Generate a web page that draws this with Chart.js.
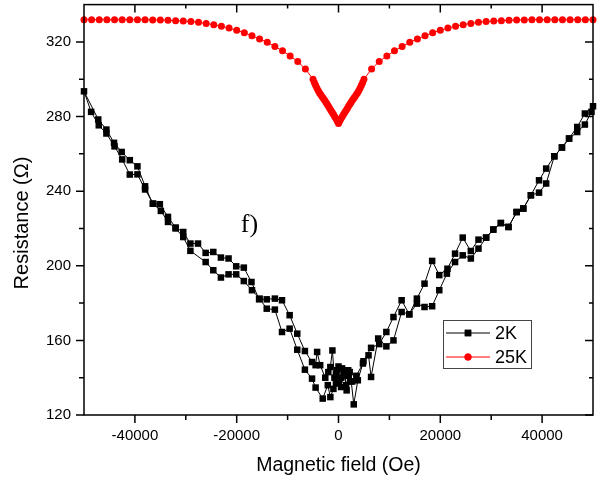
<!DOCTYPE html>
<html>
<head>
<meta charset="utf-8">
<script src="https://cdn.jsdelivr.net/npm/chart.js"></script>
<style>
  body { margin: 0; background: #fff; }
  canvas { display: block; }
</style>
</head>
<body>
<canvas id="chart" width="603" height="485"></canvas>
<script>
// axis ticks
const xTicks = [-40000, -20000, 0, 20000, 40000];
const xMinor = [-30000, -10000, 10000, 30000];
const yTicks = [120, 160, 200, 240, 280, 320];
const yMinor = [140, 180, 220, 260, 300];

// 2K, first sweep (+H -> -H)
const field2kDown = [50000, 48400, 46900, 45300, 43900, 42400, 40800, 39400, 37800, 36300,
  35000, 33400, 31900, 30400, 29000, 27500, 26000, 24400, 22900, 21400,
  19800, 18400, 16900, 15400, 13900, 12400, 10800, 9400, 8000, 6400,
  4900, 3800, 3000, 2500, 2000, 1500, 1000, 500, 0, -500,
  -1000, -1600, -2100, -3100, -4500, -5200, -6600, -8100, -9600, -11100,
  -12500, -14100, -15500, -17000, -18600, -20100, -21600, -23100, -24600, -26100,
  -29100, -30500, -32000, -33500, -34900, -36400, -38000, -39500, -41000, -42500,
  -44000, -45600, -47100, -48600, -50000];
const res2kDown = [285.5, 281.6, 274.4, 268.2, 263.4, 258.7, 252.1, 245.8, 237.8, 230.7,
  228.8, 220.8, 222.9, 219.4, 215.1, 214, 207.9, 215.1, 206.5, 198.4,
  195, 202.6, 190.4, 182.4, 174, 181.5, 172.5, 164.5, 158, 156,
  148.8, 138.6, 125.7, 138, 141, 136, 144, 140, 137, 142,
  134, 129.6, 136, 128.8, 134.7, 139.5, 144.3, 155, 166.3, 164.5,
  176.5, 177, 182.4, 186.9, 191.8, 195.4, 195.4, 193.7, 197.6, 202,
  208, 215.4, 220, 223.5, 229.4, 233.3, 240.9, 249, 248.9, 257,
  264, 270.9, 275.3, 282.5, 293.5];

// 2K, return sweep (-H -> +H)
const field2kUp = [-47200, -45600, -44100, -42600, -41000, -39500, -38000, -36500, -35100, -33500,
  -32000, -30500, -29100, -27600, -26100, -24600, -23100, -21600, -20100, -18600,
  -17100, -15600, -14100, -12500, -11100, -9600, -8100, -6600, -5200, -4500,
  -4200, -3600, -2600, -2000, -1600, -1200, -800, -500, -300, 0,
  200, 500, 700, 1000, 1200, 1600, 1900, 2200, 2700, 3500,
  4800, 5900, 6400, 7800, 9400, 10800, 12400, 13900, 15400, 16900,
  18400, 19800, 21300, 22900, 24400, 26000, 27500, 29000, 30400, 31900,
  33400, 35000, 36300, 37800, 39400, 40800, 42400, 43900, 45300, 46900,
  48400, 49700];
const res2kUp = [278.4, 273, 265.9, 261, 256.6, 253.3, 242.6, 233.3, 233, 226.2,
  220.5, 218.1, 211.9, 211.9, 206.9, 207.4, 204.4, 203.9, 199.7, 199,
  191.3, 182, 182, 182.4, 181.5, 173.5, 163.6, 154.3, 148.4, 146.7,
  153.8, 146.7, 140, 143, 145.7, 154.6, 140, 137, 144, 146,
  139, 135, 145, 141, 142, 133.2, 144, 143, 138, 141,
  147.6, 152, 140.4, 161, 156.8, 160, 175.2, 174, 179.7, 177.9,
  178.3, 186.9, 195.8, 202, 205.6, 203.9, 209.2, 215.1, 219.4, 222.9,
  220.8, 228.8, 230.7, 237.8, 239.2, 244.1, 258.7, 263.4, 268.2, 271.7,
  275.7, 282.5];

// 25K
const field25k = [-50000, -48500, -47000, -45500, -44000, -42500, -41000, -39500, -38000, -36500,
  -35000, -33500, -32000, -30500, -29000, -27500, -26000, -24500, -23000, -21500,
  -20000, -18500, -17000, -15500, -14000, -12500, -11000, -9500, -8000, -6500,
  -5000, -4750, -4500, -4250, -4000, -3750, -3500, -3250, -3000, -2750,
  -2500, -2250, -2000, -1750, -1500, -1250, -1000, -750, -500, -250,
  0, 250, 500, 750, 1000, 1250, 1500, 1750, 2000, 2250,
  2500, 2750, 3000, 3250, 3500, 3750, 4000, 4250, 4500, 4750,
  5000, 6500, 8000, 9500, 11000, 12500, 14000, 15500, 17000, 18500,
  20000, 21500, 23000, 24500, 26000, 27500, 29000, 30500, 32000, 33500,
  35000, 36500, 38000, 39500, 41000, 42500, 44000, 45500, 47000, 48500,
  50000];
const res25k = [331.9, 331.9, 331.9, 331.9, 331.9, 331.9, 331.9, 331.9, 331.9, 331.8,
  331.7, 331.6, 331.4, 331.2, 330.9, 330.5, 329.9, 329.2, 328.4, 327.4,
  326.2, 324.9, 323.3, 321.6, 319.8, 317.6, 315.2, 312.5, 309.5, 305.5,
  300, 298.2, 296.7, 295.3, 294, 292.8, 291.8, 290.8, 289.8, 288.8,
  287.8, 286.7, 285.6, 284.5, 283.4, 282.3, 281.2, 280, 278.9, 277.6,
  276.3, 277.6, 278.9, 280, 281.2, 282.3, 283.4, 284.5, 285.6, 286.7,
  287.8, 288.8, 289.8, 290.8, 291.8, 292.8, 294, 295.3, 296.7, 298.2,
  300, 305.5, 309.5, 312.5, 315.2, 317.6, 319.8, 321.6, 323.3, 324.9,
  326.2, 327.4, 328.4, 329.2, 329.9, 330.5, 330.9, 331.2, 331.4, 331.6,
  331.7, 331.8, 331.9, 331.9, 331.9, 331.9, 331.9, 331.9, 331.9, 331.9,
  331.9];

const toPoints = (xs, ys) => xs.map((v, i) => ({ x: v, y: ys[i] }));
const pts2k = toPoints(field2kDown, res2kDown).concat(toPoints(field2kUp, res2kUp));
const pts25k = toPoints(field25k, res25k);

Chart.defaults.color = '#000';
Chart.defaults.font.family = '"Liberation Sans", Arial, sans-serif';

// box, inward/outward ticks, y title, "f)" label and the legend box
const decorations = {
  id: 'decorations',
  afterDatasetsDraw(chart) {
    const { ctx, chartArea: a, scales: { x, y } } = chart;
    ctx.save();
    ctx.strokeStyle = '#000';
    ctx.lineWidth = 1.5;
    ctx.strokeRect(a.left, a.top, a.right - a.left, a.bottom - a.top);

    ctx.beginPath();
    const xt = (v, major) => {
      const p = x.getPixelForValue(v);
      ctx.moveTo(p, a.bottom); ctx.lineTo(p, a.bottom + (major ? 8 : 5));
      ctx.moveTo(p, a.top); ctx.lineTo(p, a.top + (major ? 8 : 4));
    };
    const yt = (v, major) => {
      const p = y.getPixelForValue(v);
      ctx.moveTo(a.left, p); ctx.lineTo(a.left - (major ? 8 : 5), p);
      ctx.moveTo(a.right, p); ctx.lineTo(a.right - (major ? 8 : 4), p);
    };
    xTicks.forEach(v => xt(v, true));
    xMinor.forEach(v => xt(v, false));
    yTicks.forEach(v => yt(v, true));
    yMinor.forEach(v => yt(v, false));
    ctx.stroke();

    ctx.fillStyle = '#000';
    ctx.textAlign = 'center';
    ctx.textBaseline = 'middle';

    // y axis title (sits a little below the plot centre in the original)
    ctx.save();
    ctx.translate(22.5, 223);
    ctx.rotate(-Math.PI / 2);
    ctx.font = '20px "Liberation Sans", Arial, sans-serif';
    ctx.fillText('Resistance (Ω)', 0, 0);
    ctx.restore();

    // panel label
    ctx.font = '26px "Liberation Serif", "Times New Roman", serif';
    ctx.fillText('f)', x.getPixelForValue(-17500), y.getPixelForValue(222));

    // legend
    ctx.lineWidth = 1;
    ctx.strokeStyle = '#444';
    ctx.strokeRect(443.5, 320.5, 88, 48);
    ctx.font = '18px "Liberation Sans", Arial, sans-serif';
    ctx.textAlign = 'left';
    chart.data.datasets.forEach((ds, i) => {
      const ly = 333 + i * 24;
      ctx.strokeStyle = ds.borderColor;
      ctx.beginPath();
      ctx.moveTo(446, ly); ctx.lineTo(490, ly);
      ctx.stroke();
      ctx.fillStyle = ds.pointBackgroundColor;
      Chart.helpers.drawPoint(ctx, { pointStyle: ds.pointStyle, radius: ds.pointRadius, rotation: 0, borderWidth: 0 }, 468, ly);
      ctx.fill();
      ctx.fillStyle = '#000';
      ctx.fillText(ds.label, 495, ly + 1);
    });
    ctx.restore();
  }
};

new Chart(document.getElementById('chart'), {
  type: 'line',
  data: {
    datasets: [
      {
        label: '2K',
        data: pts2k,
        borderColor: '#000',
        borderWidth: 1,
        pointStyle: 'rect',
        pointRadius: 4.6,
        pointBackgroundColor: '#000',
        pointBorderWidth: 0,
        tension: 0,
        clip: false
      },
      {
        label: '25K',
        data: pts25k,
        borderColor: '#ff0000',
        borderWidth: 1,
        pointStyle: 'circle',
        pointRadius: 3.5,
        pointBackgroundColor: '#ff0000',
        pointBorderWidth: 0,
        tension: 0,
        clip: false
      }
    ]
  },
  options: {
    responsive: false,
    animation: false,
    devicePixelRatio: 1,
    layout: { padding: { top: 4, right: 10, left: 0, bottom: 0 } },
    plugins: { legend: { display: false }, tooltip: { enabled: false } },
    scales: {
      x: {
        type: 'linear',
        min: -50000,
        max: 50000,
        grid: { display: false, drawTicks: false },
        border: { display: false },
        afterBuildTicks: s => { s.ticks = xTicks.map(v => ({ value: v })); },
        afterFit: s => { s.height = 70; s.paddingLeft = 0; s.paddingRight = 0; },
        ticks: { font: { size: 15 }, padding: 12, maxRotation: 0, callback: v => String(v) },
        title: { display: true, text: 'Magnetic field (Oe)', font: { size: 19.5 }, padding: { bottom: 8 } }
      },
      y: {
        type: 'linear',
        min: 120,
        max: 340,
        grid: { display: false, drawTicks: false },
        border: { display: false },
        afterBuildTicks: s => { s.ticks = yTicks.map(v => ({ value: v })); },
        afterFit: s => { s.width = 84; s.paddingTop = 0; s.paddingBottom = 0; },
        ticks: { font: { size: 15 }, padding: 13, callback: v => String(v) },
        title: { display: false }
      }
    }
  },
  plugins: [decorations]
});
</script>
</body>
</html>
